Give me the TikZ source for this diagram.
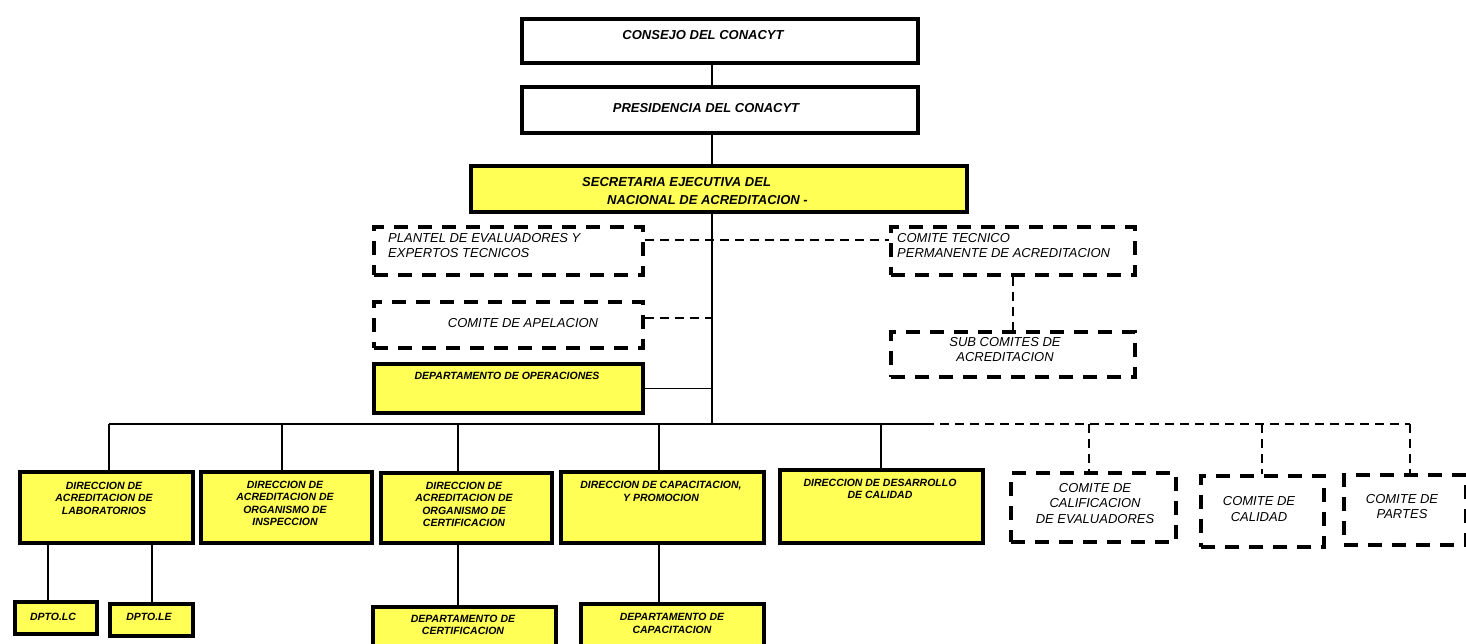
\documentclass[tikz,border=0pt]{standalone}
\usepackage{fontspec}
\setmainfont{Liberation Sans}
\definecolor{boxyellow}{RGB}{255,255,85}
\tikzset{
  solidbox/.style={draw=black, line width=4pt, fill=boxyellow, inner sep=0pt},
  whitebox/.style={draw=black, line width=4pt, fill=white, inner sep=0pt},
  dashbox/.style={draw=black, line width=4pt, dash pattern=on 14pt off 10pt, fill=white, inner sep=0pt},
  conn/.style={draw=black, line width=1.8pt},
  dconn/.style={draw=black, line width=2.4pt, dash pattern=on 9pt off 6pt},
  ttl/.style={font=\fontsize{13}{18}\selectfont\bfseries\itshape, inner sep=0pt},
  dtxt/.style={font=\fontsize{10.5}{12.5}\selectfont\bfseries\itshape, align=center, inner sep=0pt},
  ltxt/.style={font=\fontsize{13}{15.5}\selectfont\itshape, inner sep=0pt},
}
\newcommand{\orgbox}[6]{%
  \node[#1, anchor=north west, minimum width={#5-#3-4}, minimum height={#6-#4-4}] (#2) at (#3+2,#4+2) {};}
\begin{document}
\begin{tikzpicture}[x=1pt,y=-1pt]
\fill[white] (0,0) rectangle (1466,644);
\useasboundingbox (0,0) rectangle (1466,644);
\clip (0,0) rectangle (1466,644);

% boxes
\orgbox{whitebox}{consejo}{518}{15}{918}{63}
\orgbox{whitebox}{presidencia}{518}{83}{918}{133}
\orgbox{solidbox}{secretaria}{467}{162}{967}{212}
\orgbox{dashbox}{plantel}{370}{223}{643}{275}
\orgbox{dashbox}{tecnico}{887}{223}{1135}{275}
\orgbox{dashbox}{apelacion}{370}{298}{643}{348}
\orgbox{dashbox}{sub}{887}{328}{1135}{377}
\orgbox{solidbox}{operaciones}{370}{360}{643}{413}
\orgbox{solidbox}{lab}{16}{468}{193}{543}
\orgbox{solidbox}{insp}{197}{468}{372}{543}
\orgbox{solidbox}{cert}{377}{469}{552}{543}
\orgbox{solidbox}{cap}{557}{468}{764}{543}
\orgbox{solidbox}{des}{776}{466}{983}{543}
\orgbox{dashbox}{calif}{1007}{469}{1176}{542}
\orgbox{dashbox}{calidad}{1197}{472}{1324}{547}
\orgbox{dashbox}{partes}{1340}{471}{1466}{545}
\orgbox{solidbox}{dptolc}{11}{598}{97}{634}
\orgbox{solidbox}{dptole}{106}{600}{193}{636}
\orgbox{solidbox}{deptcert}{369}{603}{556}{665}
\orgbox{solidbox}{deptcap}{577}{600}{764}{665}

% texts
\node[ttl] (consejo-t) at (703,35) {CONSEJO DEL CONACYT};
\node[ttl] (presidencia-t) at (706,108) {PRESIDENCIA DEL CONACYT};
\node[ttl, align=left, anchor=west] (secretaria-t) at (582,191) {SECRETARIA EJECUTIVA DEL\\\hspace*{25pt}NACIONAL DE ACREDITACION -};
\node[ltxt, align=left, anchor=west] (plantel-t) at (388,245.5) {PLANTEL DE EVALUADORES Y\\EXPERTOS TECNICOS};
\node[ltxt, align=left, anchor=west] (tecnico-t) at (897,245.5) {COMITE TECNICO\\PERMANENTE DE ACREDITACION};
\node[ltxt] (apelacion-t) at (523,323) {COMITE DE APELACION};
\node[ltxt, align=center] (sub-t) at (1005,349.5) {SUB COMITES DE\\ACREDITACION};
\node[dtxt] (operaciones-t) at (507,376) {DEPARTAMENTO DE OPERACIONES};
\node[dtxt] (lab-t) at (104,498) {DIRECCION DE\\ACREDITACION DE\\LABORATORIOS};
\node[dtxt] (insp-t) at (285,503.5) {DIRECCION DE\\ACREDITACION DE\\ORGANISMO DE\\INSPECCION};
\node[dtxt] (cert-t) at (464,504.5) {DIRECCION DE\\ACREDITACION DE\\ORGANISMO DE\\CERTIFICACION};
\node[dtxt] (cap-t) at (661,491.5) {DIRECCION DE CAPACITACION,\\Y PROMOCION};
\node[dtxt] (des-t) at (880,489) {DIRECCION DE DESARROLLO\\DE CALIDAD};
\node[ltxt, align=center] (calif-t) at (1095,503.5) {COMITE DE\\CALIFICACION\\DE EVALUADORES};
\node[ltxt, align=center] (calidad-t) at (1259,509) {COMITE DE\\CALIDAD};
\node[ltxt, align=center] (partes-t) at (1402,506.5) {COMITE DE\\PARTES};
\node[dtxt] (dptolc-t) at (53,617) {DPTO.LC};
\node[dtxt] (dptole-t) at (149,617) {DPTO.LE};
\node[dtxt] (deptcert-t) at (463,625) {DEPARTAMENTO DE\\CERTIFICACION};
\node[dtxt] (deptcap-t) at (672,623.5) {DEPARTAMENTO DE\\CAPACITACION};

% spine and bus
\coordinate (spine) at (712,0);
\coordinate (busL) at (109,424);
\coordinate (busR) at (925,424);
\coordinate (busE) at (1410,424);
\coordinate (b2) at (282,424);
\coordinate (b3) at (458,424);
\coordinate (b4) at (659,424);
\coordinate (b5) at (881,424);
\coordinate (c1) at (1089,424);
\coordinate (c2) at (1262,424);
\coordinate (l1) at (48,0);
\coordinate (l2) at (152,0);

\draw[conn] (consejo.south -| spine) -- (presidencia.north -| spine);
\draw[conn] (presidencia.south -| spine) -- (secretaria.north -| spine);
\draw[conn] (secretaria.south -| spine) -- (spine |- busL);
\draw[conn] (busL) -- (busR);
\draw[dconn] (busR) -- (busE);

\coordinate (pl) at ([yshift=11pt]plantel.east);
\draw[dconn] (pl) -- (pl -| tecnico.west);
\coordinate (apl) at ([yshift=7pt]apelacion.east);
\draw[dconn] (apl) -- (apl -| spine);
\draw[dconn] (tecnico.south) -- (sub.north);
\draw[conn] (operaciones.east) -- (operaciones.east -| spine);

\draw[conn] (busL) -- (busL |- lab.north);
\draw[conn] (b2) -- (b2 |- insp.north);
\draw[conn] (b3) -- (b3 |- cert.north);
\draw[conn] (b4) -- (b4 |- cap.north);
\draw[conn] (b5) -- (b5 |- des.north);
\draw[dconn] (c1) -- (c1 |- calif.north);
\draw[dconn] (c2) -- (c2 |- calidad.north);
\draw[dconn] (busE) -- (busE |- partes.north);

\draw[conn] (l1 |- lab.south) -- (l1 |- dptolc.north);
\draw[conn] (l2 |- lab.south) -- (l2 |- dptole.north);
\draw[conn] (b3 |- cert.south) -- (b3 |- deptcert.north);
\draw[conn] (b4 |- cap.south) -- (b4 |- deptcap.north);
\end{tikzpicture}
\end{document}
